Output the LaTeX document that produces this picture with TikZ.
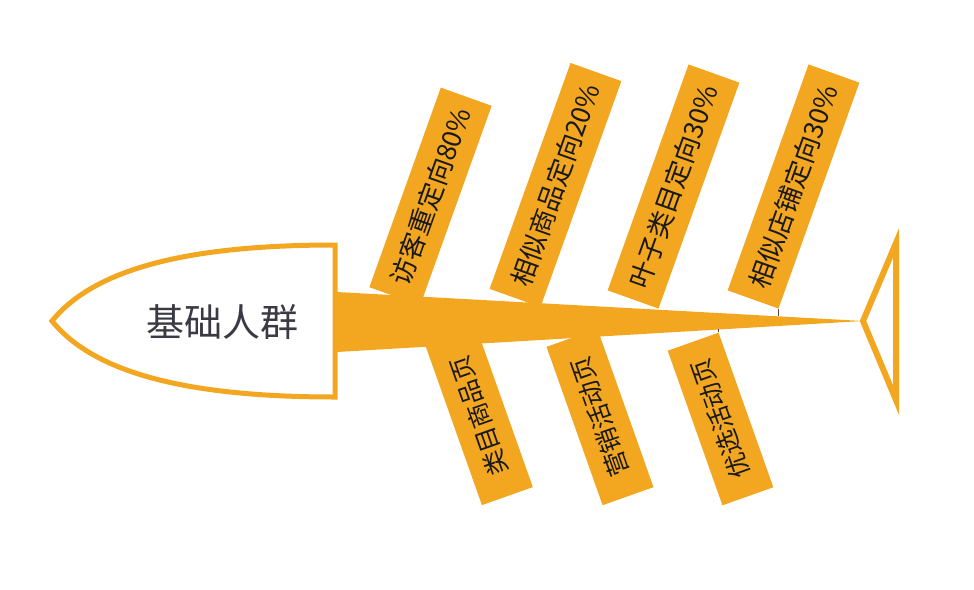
\documentclass[tikz,border=0pt]{standalone}
\usepackage{fontspec}
\newfontfamily\cjk{Noto Sans CJK SC}
\definecolor{fishorange}{RGB}{243,167,33}
\definecolor{headtext}{RGB}{58,58,68}
\begin{document}
\begin{tikzpicture}[x=1pt,y=-1pt,
  bonebox/.style={fill=fishorange, inner sep=0pt, minimum height=54pt,
    font=\cjk\fontsize{25}{30}\selectfont, text=black!90},
  upbox/.style={bonebox, rotate=70.3, minimum width=#1, font=\cjk\fontsize{26.5}{30}\selectfont},
  downbox/.style={bonebox, rotate=109.5, minimum width=#1},
  tick/.style={draw=black!70, line width=0.8pt}
]
\useasboundingbox (0,0) rectangle (974,589);
% upper bones
\node[upbox=212pt] (b1) at (430.5,196.5) {访客重定向80\%};
\node[upbox=240pt] (b2) at (555.5,185) {相似商品定向20\%};
\node[upbox=240pt] (b3) at (673.5,186.5) {叶子类目定向30\%};
\node[upbox=240pt] (b4) at (793.5,186.5) {相似店铺定向30\%};
% lower bones
\node[downbox=170pt] (c1) at (479,416) {类目商品页};
\node[downbox=168pt] (c2) at (600,417) {营销活动页};
\node[downbox=164pt] (c3) at (720.5,419) {优选活动页};
% spine
\coordinate (sp1) at (337,292);
\coordinate (sp2) at (337,352);
\coordinate (tip) at (863,321);
\fill[fishorange] (sp1) -- (tip) -- (sp2) -- cycle;
% tiny connector ticks
\coordinate (t4) at (b4.south west |- 0,316);
\draw[tick] (b4.south west) -- (t4);
\coordinate (t7) at (c3.south east |- 0,329);
\draw[tick] (c3.south east) -- (t7);
% tail
\coordinate (tailtop) at (896,243);
\coordinate (tailbot) at (896,400);
\draw[fishorange, line width=6pt, line join=miter] (tip) -- (tailtop) -- (tailbot) -- cycle;
% head
\coordinate (hl) at (52,321);
\coordinate (ht) at (335,245);
\coordinate (hb) at (335,397);
\draw[fishorange, fill=white, line width=5pt, line join=miter]
  (hl) .. controls (95,268) and (190,245) .. (ht) -- (hb)
  .. controls (190,397) and (95,374) .. (hl) -- cycle;
\node[font=\cjk\fontsize{38}{44}\selectfont, text=headtext, inner sep=0pt] (head) at (222,322) {基础人群};
\end{tikzpicture}
\end{document}
